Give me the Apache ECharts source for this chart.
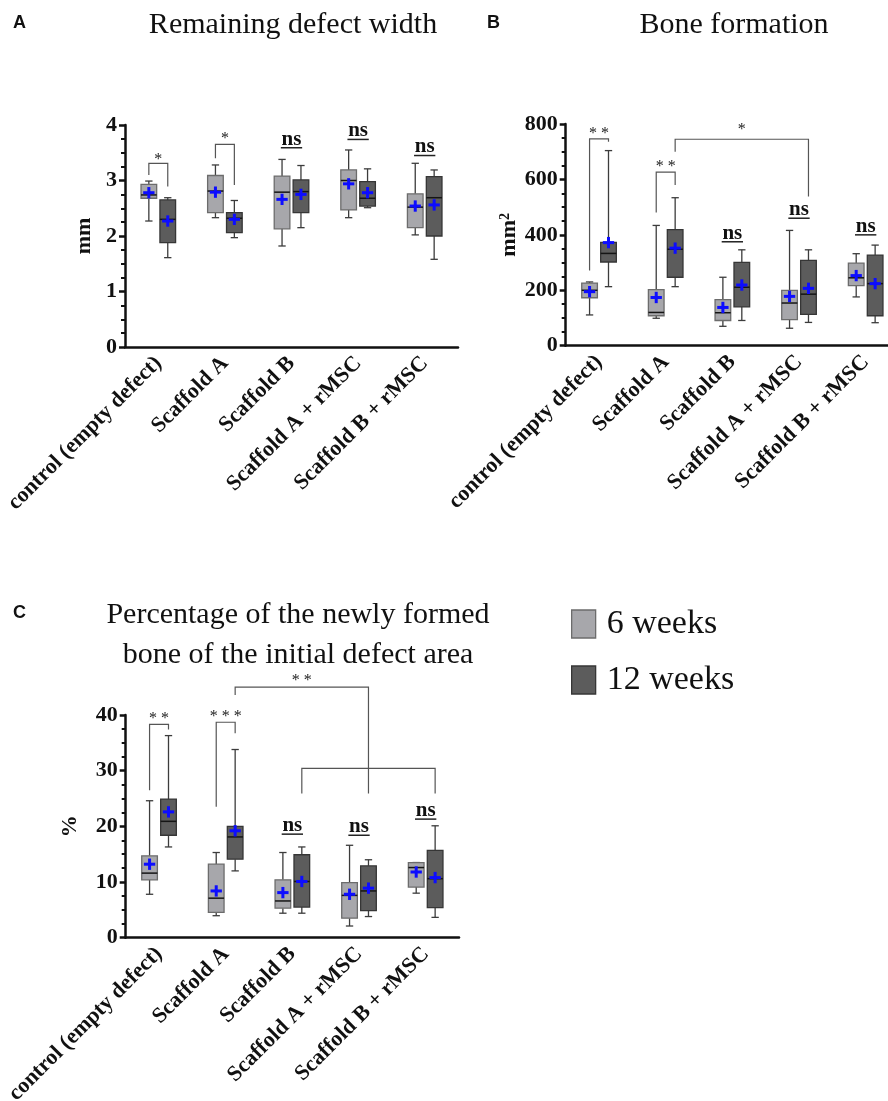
<!DOCTYPE html>
<html><head><meta charset="utf-8">
<script src="https://cdn.jsdelivr.net/npm/echarts@6/dist/echarts.min.js"></script>
<style>html,body{margin:0;padding:0;background:#fff}#c{width:888px;height:1101px}</style>
</head><body><div id="c"></div>
<script>
// ---------------- data ----------------
const categories = ['control (empty defect)', 'Scaffold A', 'Scaffold B', 'Scaffold A + rMSC', 'Scaffold B + rMSC'];
const seriesNames = ['6 weeks', '12 weeks'];
// each row: [low whisker, Q1, median, Q3, high whisker, mean]
const width6 = [[2.27, 2.68, 2.74, 2.93, 2.99, 2.78], [2.33, 2.42, 2.81, 3.09, 3.28, 2.79], [1.82, 2.13, 2.79, 3.08, 3.38, 2.66], [2.33, 2.47, 3.00, 3.19, 3.55, 2.94], [2.02, 2.15, 2.52, 2.76, 3.31, 2.54]];
const width12 = [[1.61, 1.88, 2.30, 2.65, 2.69, 2.27], [1.97, 2.06, 2.32, 2.42, 2.64, 2.30], [2.15, 2.42, 2.80, 3.01, 3.27, 2.75], [2.51, 2.54, 2.68, 2.98, 3.21, 2.78], [1.58, 2.00, 2.69, 3.07, 3.19, 2.56]];
const bone6 = [[111, 173, 200, 226, 230, 195], [99, 108, 120, 202, 434, 174], [70, 91, 119, 166, 247, 138], [63, 94, 154, 200, 416, 178], [176, 217, 245, 298, 332, 253]];
const bone12 = [[213, 302, 333, 373, 704, 372], [213, 247, 348, 419, 534, 352], [91, 140, 211, 301, 346, 219], [84, 113, 186, 308, 346, 207], [83, 108, 224, 327, 363, 224]];
const pct6 = [[7.8, 10.4, 11.6, 14.7, 24.6, 13.2], [3.95, 4.55, 7.1, 13.2, 15.3, 8.4], [4.4, 5.3, 6.6, 10.4, 15.3, 8.1], [2.1, 3.5, 7.6, 9.9, 16.6, 7.8], [8.0, 9.1, 12.6, 13.5, 13.5, 11.8]];
const pct12 = [[16.3, 18.4, 20.9, 24.9, 36.3, 22.6], [12.0, 14.1, 18.1, 20.0, 33.8, 19.2], [4.4, 5.5, 10.1, 14.9, 16.3, 10.1], [3.8, 4.85, 8.4, 12.9, 14.0, 8.9], [3.65, 5.4, 10.6, 15.7, 20.1, 10.8]];
// y axis ranges
const widthAxis = {min: 0, max: 4, interval: 1};
const boneAxis = {min: 0, max: 800, interval: 200};
const pctAxis = {min: 0, max: 40, interval: 10};
// significance brackets: [catLeft, sideLeft, catRight, sideRight, yBar, yLegLeft, yLegRight, yLabel]
const widthBrackets = [[0, 0, 0, 1, 3.31, 3.10, 2.89, 3.43], [1, 0, 1, 1, 3.65, 3.40, 2.92, 3.80]];
const widthBracketLabels = ['*', '*'];
const widthNs = [[2, 3.59], [3, 3.74], [4, 3.45]];
const boneBrackets = [[0, 0, 0, 1, 746, 271, 736, 776], [1, 0, 1, 1, 626, 481, 580, 656], [1, 1, 3, 1, 745, 700, 538, 790]];
const boneBracketLabels = ['* *', '* *', '*'];
const boneNs = [[2, 375], [3, 460], [4, 400]];
const pctBrackets = [[0, 0, 0, 1, 38.3, 26.5, 37.4, 39.8], [1, 0, 1, 1, 38.7, 23.5, 36.7, 40.3], [1, 1, 3, 1, 45.0, 43.6, 25.9, 46.6], [2, 1, 4, 1, 30.4, 25.9, 25.9, null]];
const pctBracketLabels = ['* *', '* * *', '* *', ''];
const pctNs = [[2, 18.6], [3, 18.4], [4, 21.3]];

// ---------------- styles ----------------
const SERIF = '"Liberation Serif", "Times New Roman", serif';
const SANS = '"Liberation Sans", Arial, sans-serif';
const BOX = [
  {fill: '#a7a7ab', stroke: '#6c6c6c'},
  {fill: '#5c5c5c', stroke: '#363636'}
];
const LAY = {off: 0.142, w: 0.235, cap: 0.055, plus: 0.085};

function rows(arr) { return arr.map((v, i) => [i].concat(v)); }

function boxRender(side) {
  return function (params, api) {
    const cat = api.value(0);
    const band = api.size([1, 0])[0];
    const cx = api.coord([cat, 0])[0] + (side ? 1 : -1) * LAY.off * band;
    const hw = LAY.w * band / 2;
    const cw = LAY.cap * band;
    const pw = LAY.plus * band;
    const y = i => api.coord([cat, api.value(i)])[1];
    const yLow = y(1), yQ1 = y(2), yMed = y(3), yQ3 = y(4), yHigh = y(5), yMean = y(6);
    const ws = {stroke: '#3c3c3c', lineWidth: 1.3};
    const st = BOX[side];
    return {type: 'group', children: [
      {type: 'line', shape: {x1: cx, y1: yLow, x2: cx, y2: yQ1}, style: ws},
      {type: 'line', shape: {x1: cx, y1: yQ3, x2: cx, y2: yHigh}, style: ws},
      {type: 'line', shape: {x1: cx - cw, y1: yLow, x2: cx + cw, y2: yLow}, style: ws},
      {type: 'line', shape: {x1: cx - cw, y1: yHigh, x2: cx + cw, y2: yHigh}, style: ws},
      {type: 'rect', shape: {x: cx - hw, y: yQ3, width: 2 * hw, height: yQ1 - yQ3}, style: {fill: st.fill, stroke: st.stroke, lineWidth: 1.3}},
      {type: 'line', shape: {x1: cx - hw, y1: yMed, x2: cx + hw, y2: yMed}, style: {stroke: '#151515', lineWidth: 1.5}},
      {type: 'line', shape: {x1: cx - pw, y1: yMean, x2: cx + pw, y2: yMean}, style: {stroke: '#0d0dff', lineWidth: 3}},
      {type: 'line', shape: {x1: cx, y1: yMean - pw, x2: cx, y2: yMean + pw}, style: {stroke: '#0d0dff', lineWidth: 3}}
    ]};
  };
}

function bracketRender(labels) {
  return function (params, api) {
    const band = api.size([1, 0])[0];
    const xL = api.coord([api.value(0), 0])[0] + (api.value(1) ? 1 : -1) * LAY.off * band;
    const xR = api.coord([api.value(2), 0])[0] + (api.value(3) ? 1 : -1) * LAY.off * band;
    const yB = api.coord([0, api.value(4)])[1];
    const yLL = api.coord([0, api.value(5)])[1];
    const yLR = api.coord([0, api.value(6)])[1];
    const children = [{type: 'polyline', shape: {points: [[xL, yLL], [xL, yB], [xR, yB], [xR, yLR]]}, style: {stroke: '#555', lineWidth: 1.2, fill: null}}];
    const lab = labels[params.dataIndex];
    if (lab) {
      const yT = api.coord([0, api.value(7)])[1];
      children.push({type: 'text', style: {text: lab, x: (xL + xR) / 2, y: yT + 3, align: 'center', verticalAlign: 'middle', font: '16px ' + SERIF, fill: '#222'}});
    }
    return {type: 'group', children};
  };
}

function nsRender(params, api) {
  const band = api.size([1, 0])[0];
  const cx = api.coord([api.value(0), 0])[0];
  const yU = api.coord([0, api.value(1)])[1];
  return {type: 'group', children: [
    {type: 'line', shape: {x1: cx - 0.16 * band, y1: yU, x2: cx + 0.16 * band, y2: yU}, style: {stroke: '#222', lineWidth: 1.5}},
    {type: 'text', style: {text: 'ns', x: cx, y: yU + 2, align: 'center', verticalAlign: 'bottom', font: 'bold 21px ' + SERIF, fill: '#111'}}
  ]};
}

const GRIDS = [
  {left: 125, top: 125, width: 333, height: 222, containLabel: false, outerBoundsMode: 'none'},
  {left: 565.7, top: 124, width: 333.3, height: 221.7, containLabel: false, outerBoundsMode: 'none'},
  {left: 125.7, top: 715, width: 333.3, height: 222.7, containLabel: false, outerBoundsMode: 'none'}
];

function xAxis(gi) {
  return {
    type: 'category', gridIndex: gi, data: categories,
    axisLine: {lineStyle: {color: '#111', width: 2.5}},
    axisTick: {alignWithLabel: true, length: 7, lineStyle: {color: '#111', width: 2.5}},
    axisLabel: {rotate: 45, margin: 13, interval: 0, fontFamily: SERIF, fontWeight: 'bold', fontSize: 22, color: '#111'},
    splitLine: {show: false}
  };
}
function yAxis(gi, ax, name, gap) {
  return {
    type: 'value', gridIndex: gi, min: ax.min, max: ax.max, interval: ax.interval,
    name: name, nameLocation: 'middle', nameGap: gap,
    nameTextStyle: {fontFamily: SERIF, fontWeight: 'bold', fontSize: 22, color: '#111',
      rich: {s: {fontFamily: SERIF, fontWeight: 'bold', fontSize: 14, color: '#111', verticalAlign: 'top'}}},
    axisLine: {show: true, lineStyle: {color: '#111', width: 2.5}},
    axisTick: {show: true, length: 6, lineStyle: {color: '#111', width: 2.5}},
    minorTick: {show: true, splitNumber: 4, length: 4, lineStyle: {color: '#111', width: 2}},
    axisLabel: {margin: 8, fontFamily: SERIF, fontWeight: 'bold', fontSize: 22, color: '#111'},
    splitLine: {show: false}
  };
}

const panels = [
  {d6: width6, d12: width12, br: widthBrackets, bl: widthBracketLabels, ns: widthNs},
  {d6: bone6, d12: bone12, br: boneBrackets, bl: boneBracketLabels, ns: boneNs},
  {d6: pct6, d12: pct12, br: pctBrackets, bl: pctBracketLabels, ns: pctNs}
];

const series = [];
panels.forEach((p, gi) => {
  [p.d6, p.d12].forEach((d, side) => {
    series.push({
      type: 'custom', name: seriesNames[side], xAxisIndex: gi, yAxisIndex: gi, clip: false,
      itemStyle: {color: BOX[side].fill, borderColor: BOX[side].stroke, borderWidth: 1.3},
      encode: {x: 0, y: [1, 2, 3, 4, 5, 6]},
      renderItem: boxRender(side), data: rows(d), silent: true
    });
  });
  series.push({type: 'custom', xAxisIndex: gi, yAxisIndex: gi, clip: false, silent: true,
    encode: {x: 0, y: [4, 5, 6]}, renderItem: bracketRender(p.bl), data: p.br.map(r => r.map(v => v == null ? 0 : v))});
  series.push({type: 'custom', xAxisIndex: gi, yAxisIndex: gi, clip: false, silent: true,
    encode: {x: 0, y: 1}, renderItem: nsRender, data: p.ns});
});

const titleStyle = {fontFamily: SERIF, fontWeight: 'normal', fontSize: 30, color: '#111'};
const letterStyle = {fontFamily: SANS, fontWeight: 'bold', fontSize: 18, color: '#111'};

const chart = echarts.init(document.getElementById('c'), null, {renderer: 'canvas'});
chart.setOption({
  backgroundColor: '#fff',
  animation: false,
  title: [
    {text: 'A', left: 8, top: 9, textStyle: letterStyle},
    {text: 'Remaining defect width', left: 288, top: 5, textAlign: 'center', textStyle: titleStyle},
    {text: 'B', left: 482, top: 9, textStyle: letterStyle},
    {text: 'Bone formation', left: 729, top: 5, textAlign: 'center', textStyle: titleStyle},
    {text: 'C', left: 8, top: 599, textStyle: letterStyle},
    {text: 'Percentage of the newly formed\nbone of the initial defect area', left: 293, top: 590, textAlign: 'center', textStyle: Object.assign({lineHeight: 40}, titleStyle)}
  ],
  legend: {
    data: seriesNames, orient: 'vertical', left: 571, top: 607, padding: 0, itemWidth: 24, itemHeight: 28, itemGap: 22,
    icon: 'rect', selectedMode: false,
    itemStyle: {borderWidth: 1.3},
    textStyle: {fontFamily: SERIF, fontSize: 34, color: '#111', padding: [0, 0, 0, 6]}
  },
  grid: GRIDS,
  xAxis: [xAxis(0), xAxis(1), xAxis(2)],
  yAxis: [yAxis(0, widthAxis, 'mm', 30), yAxis(1, boneAxis, 'mm{s|2}', 40), yAxis(2, pctAxis, '%', 44)],
  series: series
});
</script></body></html>
